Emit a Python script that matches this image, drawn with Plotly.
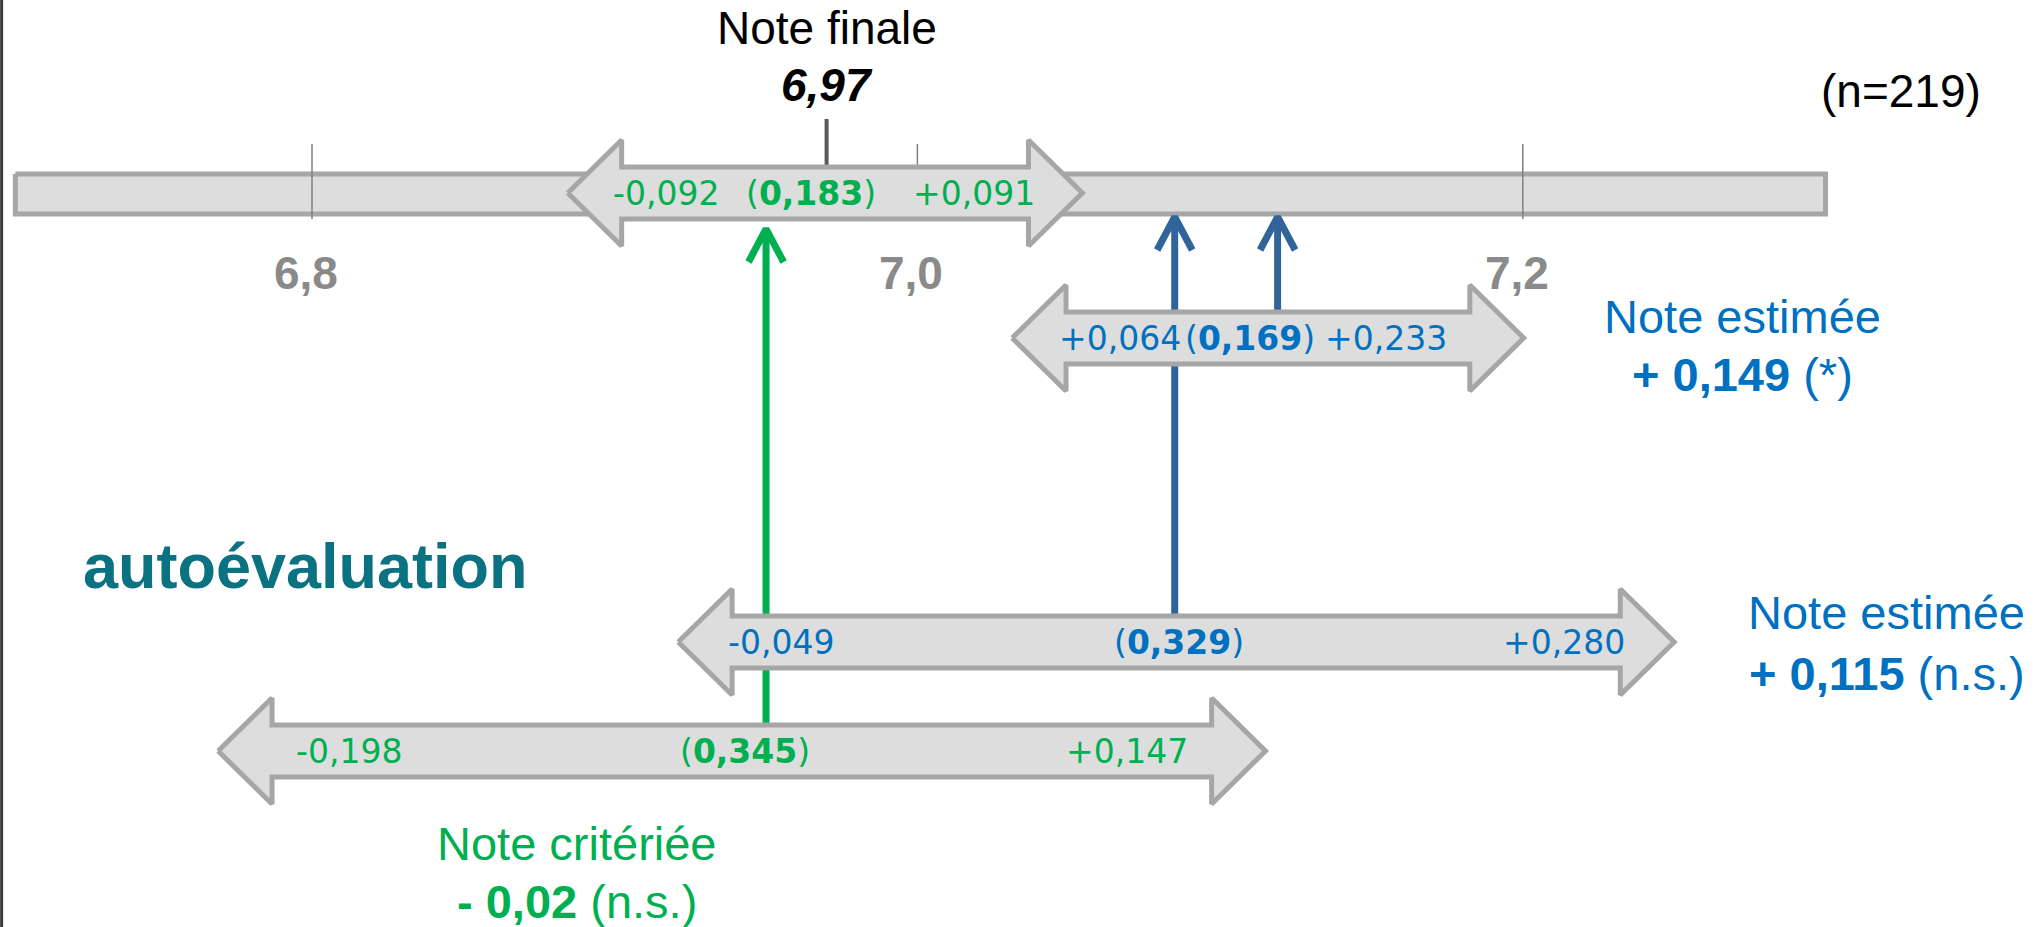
import plotly.graph_objects as go

# --- données ---
note_finale = 6.97
n_eleves = 219
graduations = [6.8, 7.0, 7.2]
graduation_labels = ["6,8", "7,0", "7,2"]
echelle = [6.702, 7.30]

# écarts à la note finale (bornes de l'intervalle) et amplitude
ecart_bas = [-0.092, 0.064, -0.049, -0.198]
ecart_haut = [0.091, 0.233, 0.280, 0.147]
amplitude = [0.183, 0.169, 0.329, 0.345]
effet = [0.0, 0.149, 0.115, -0.02]
effet_labels = ["", "+ 0,149", "+ 0,115", "- 0,02"]
signif = ["", "(*)", "(n.s.)", "(n.s.)"]
noms = ["Note finale", "Note estimée", "Note estimée", "Note critériée"]

# --- mise en page (positions verticales en pixels, y inversé) ---
VERT = "#00B050"
BLEU = "#0070C0"
BLEU_FLECHE = "#31659A"
couleurs = [VERT, BLEU, BLEU, VERT]
rangee_y = [193, 338, 642, 751]
barre_y = 194
tete = 0.0178          # longueur des pointes (unités de note)
H, B = 53, 26          # demi-hauteurs pointe / corps
# retouches du dessin d'origine (gauche, droite), en unités de note
retouche = [(0.0065, -0.0065), (-0.0027, -0.0027), (0.0, 0.0), (-0.003, -0.002)]
# position x des trois étiquettes de chaque flèche
label_x = [
    (6.917, 6.965, 7.0188),
    (7.0668, 7.110, 7.1547),
    (6.955, 7.0863, 7.2135),
    (6.8122, 6.9431, 7.0691),
]
# flèches verticales : (rangée de départ, y de la pointe, couleur)
fleches = [(3, 229, VERT), (2, 217, BLEU_FLECHE), (1, 217, BLEU_FLECHE)]
# blocs de texte : (x, y du nom, y de l'effet)
blocs = {1: (7.2727, 316, 374), 2: (7.3203, 612, 673), 3: (6.8876, 843, 901)}

GRIS_FOND = "#DDDDDD"
GRIS_BORD = "#A6A6A6"
ARIAL = "Liberation Sans, Arial, sans-serif"
VERDANA = "DejaVu Sans, Verdana, sans-serif"


def fr(v, signe=True):
    s = f"{v:+.3f}" if signe else f"{v:.3f}"
    return s.replace(".", ",")


def double_fleche(lo, hi, yc):
    xs = [lo, lo + tete, lo + tete, hi - tete, hi - tete, hi,
          hi - tete, hi - tete, lo + tete, lo + tete, lo]
    ys = [yc, yc - H, yc - B, yc - B, yc - H, yc,
          yc + H, yc + B, yc + B, yc + H, yc]
    return go.Scatter(x=xs, y=ys, mode="lines", fill="toself", fillcolor=GRIS_FOND,
                      line=dict(color=GRIS_BORD, width=5), hoverinfo="skip")


fig = go.Figure()

# barre d'échelle
fig.add_trace(go.Scatter(
    x=[echelle[0], echelle[1], echelle[1], echelle[0], echelle[0]],
    y=[barre_y - 20, barre_y - 20, barre_y + 20, barre_y + 20, barre_y - 20],
    mode="lines", fill="toself", fillcolor=GRIS_FOND,
    line=dict(color=GRIS_BORD, width=5), hoverinfo="skip"))

# graduations
for g in graduations:
    fig.add_trace(go.Scatter(x=[g, g], y=[144, 219], mode="lines",
                             line=dict(color="#7F7F7F", width=1.5), hoverinfo="skip"))
fig.add_trace(go.Scatter(x=[note_finale, note_finale], y=[119, 192], mode="lines",
                         line=dict(color="#5A5A5A", width=4), hoverinfo="skip"))

# flèches verticales vers l'échelle
for rang, pointe, coul in fleches:
    xv = note_finale + effet[rang]
    fig.add_trace(go.Scatter(x=[xv, xv], y=[rangee_y[rang] - B, pointe], mode="lines",
                             line=dict(color=coul, width=7), hoverinfo="skip"))
    fig.add_trace(go.Scatter(x=[xv - 0.0058, xv, xv + 0.0058],
                             y=[pointe + 33, pointe, pointe + 33], mode="lines",
                             line=dict(color=coul, width=7), hoverinfo="skip"))

# intervalles
for i in range(len(ecart_bas)):
    lo = note_finale + ecart_bas[i] + retouche[i][0]
    hi = note_finale + ecart_haut[i] + retouche[i][1]
    fig.add_trace(double_fleche(lo, hi, rangee_y[i]))
    textes = [fr(ecart_bas[i]), "(<b>" + fr(amplitude[i], False) + "</b>)", fr(ecart_haut[i])]
    for xt, t in zip(label_x[i], textes):
        fig.add_annotation(x=xt, y=rangee_y[i], text=t, showarrow=False,
                           xanchor="center", yanchor="middle",
                           font=dict(family=VERDANA, size=33, color=couleurs[i]))

# étiquettes des graduations
for g, lab in zip(graduations, graduation_labels):
    fig.add_annotation(x=g, y=273, text="<b>" + lab + "</b>", showarrow=False, xshift=-6,
                       font=dict(family=ARIAL, size=46, color="#8A8A8A"))

# note finale
fig.add_annotation(x=note_finale, y=28, text=noms[0], showarrow=False,
                   font=dict(family=ARIAL, size=46, color="black"))
fig.add_annotation(x=note_finale, y=85, text="<b><i>" + fr(note_finale, False)[:4] + "</i></b>",
                   showarrow=False, font=dict(family=ARIAL, size=46, color="black"))
fig.add_annotation(x=7.325, y=91, text=f"(n={n_eleves})", showarrow=False,
                   font=dict(family=ARIAL, size=46, color="black"))

# blocs de résultats
for rang, (xb, y1, y2) in blocs.items():
    fig.add_annotation(x=xb, y=y1, text=noms[rang], showarrow=False,
                       font=dict(family=ARIAL, size=47, color=couleurs[rang]))
    fig.add_annotation(x=xb, y=y2, text="<b>" + effet_labels[rang] + "</b> " + signif[rang],
                       showarrow=False, font=dict(family=ARIAL, size=47, color=couleurs[rang]))

fig.add_annotation(x=6.7977, y=566, text="<b>autoévaluation</b>", showarrow=False,
                   font=dict(family=ARIAL, size=63, color="#0B7282"))

# bord gauche sombre
fig.add_shape(type="line", xref="paper", yref="paper", x0=0.0008, x1=0.0008, y0=0, y1=1,
              line=dict(color="#3A3A3A", width=3))

fig.update_layout(
    width=2041, height=927,
    margin=dict(l=0, r=0, t=0, b=0),
    showlegend=False,
    plot_bgcolor="white", paper_bgcolor="white",
    xaxis=dict(range=[6.69693, 7.37119], visible=False, fixedrange=True),
    yaxis=dict(range=[927, 0], visible=False, fixedrange=True),
)

fig.write_html("out.html", config={"displayModeBar": False},
               post_script="document.body.style.margin='0';")
